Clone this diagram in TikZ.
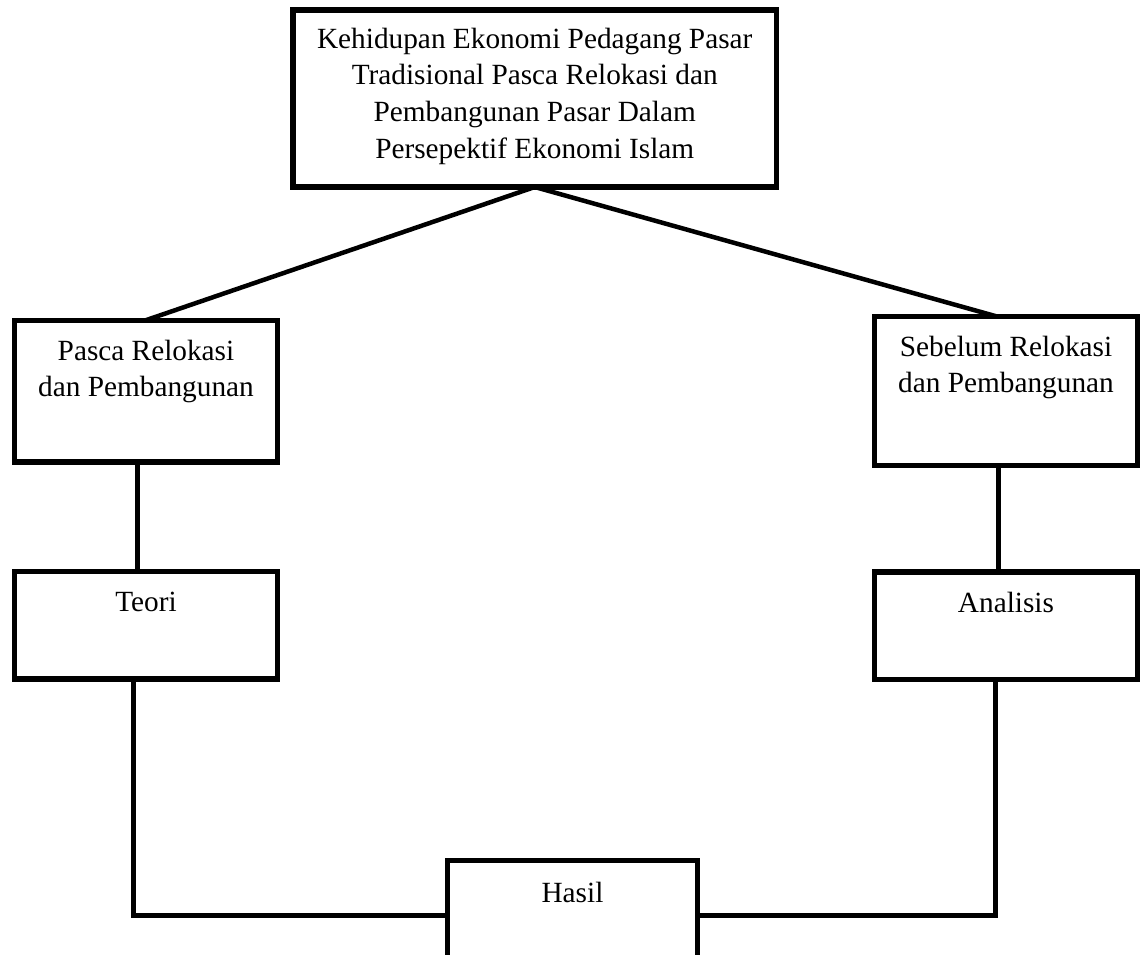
\documentclass[tikz,border=0pt]{standalone}
\usepackage{fontspec}
\setmainfont{Liberation Serif}
\begin{document}
\begin{tikzpicture}[x=1pt,y=-1pt,
  box/.style={draw=black, line width=5.5pt, rectangle, outer sep=0pt, inner sep=0pt},
  txt/.style={anchor=north, inner sep=0pt, align=center, font={\fontsize{29.3}{36.7}\selectfont}},
  conn/.style={draw=black, line width=5pt}]
\useasboundingbox (0,0) rectangle (1143,955);
\fill[white] (0,0) rectangle (1143,955);
% boxes
\node[box, minimum width=483.5pt, minimum height=177pt] (top) at (534.75,98.5) {};
\node[box, minimum width=263pt, minimum height=141.5pt] (pasca) at (146,391.25) {};
\node[box, minimum width=263pt, minimum height=149pt] (sebelum) at (1006,391) {};
\node[box, minimum width=263pt, minimum height=107.5pt] (teori) at (146,625.25) {};
\node[box, minimum width=263pt, minimum height=107.5pt] (analisis) at (1006,625.75) {};
\node[box, minimum width=250pt, minimum height=98.5pt] (hasil) at (572.5,909.75) {};
% texts
\node[txt] (ttop) at ([yshift=-10pt]top.north) {\rule{0pt}{28pt}Kehidupan Ekonomi Pedagang Pasar\\Tradisional Pasca Relokasi dan\\Pembangunan Pasar Dalam\\Persepektif Ekonomi Islam};
\node[txt] (tpasca) at ([yshift=-11.5pt]pasca.north) {\rule{0pt}{28pt}Pasca Relokasi\\dan Pembangunan};
\node[txt] (tsebelum) at ([yshift=-11.5pt]sebelum.north) {\rule{0pt}{28pt}Sebelum Relokasi\\dan Pembangunan};
\node[txt] (tteori) at ([yshift=-11.5pt]teori.north) {\rule{0pt}{28pt}Teori};
\node[txt] (tanalisis) at ([yshift=-12pt]analisis.north) {\rule{0pt}{28pt}Analisis};
\node[txt] (thasil) at ([yshift=-13.5pt]hasil.north) {\rule{0pt}{28pt}Hasil};
% connectors
\draw[conn, line width=4.5pt] (top.south) -- ([xshift=-1pt]pasca.north);
\draw[conn, line width=4.5pt] (top.south) -- ([xshift=-9pt]sebelum.north);
\draw[conn] ([xshift=-8.5pt]pasca.south) -- ([xshift=-8.5pt]teori.north);
\draw[conn] ([xshift=-8pt]sebelum.south) -- ([xshift=-8pt]analisis.north);
\draw[conn] ([xshift=-12.5pt]teori.south) |- ([yshift=-5.25pt]hasil.west);
\draw[conn] ([xshift=-10.5pt]analisis.south) |- ([yshift=-5.25pt]hasil.east);
\end{tikzpicture}
\end{document}
